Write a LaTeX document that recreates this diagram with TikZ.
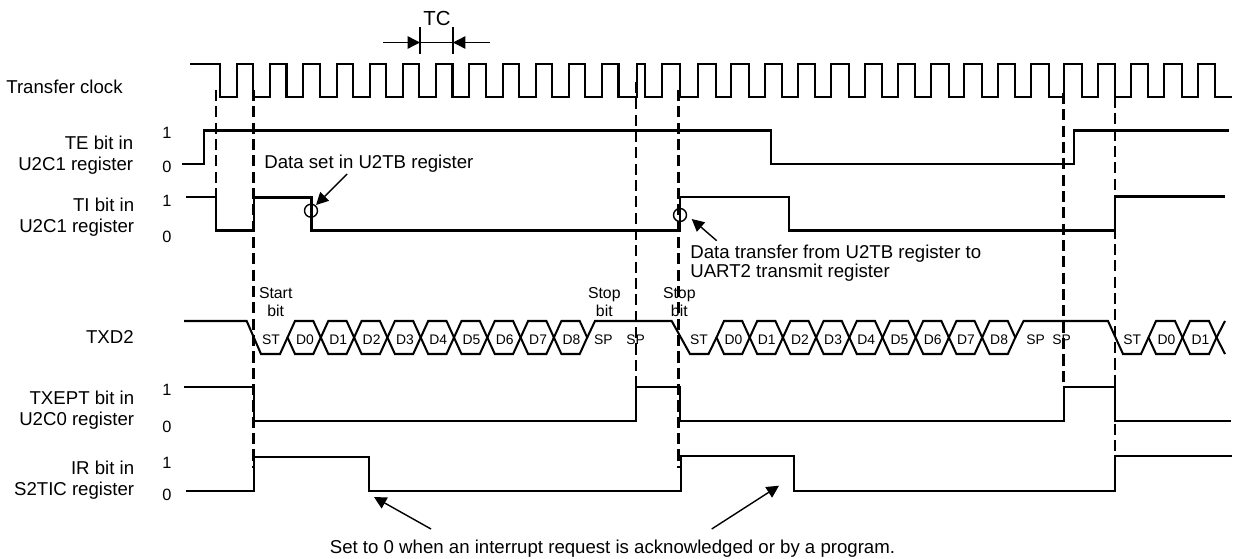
\documentclass[tikz,border=0pt]{standalone}
\usepackage{fontspec}
\setmainfont{Liberation Sans}
\usetikzlibrary{arrows.meta}
\tikzset{
  sig/.style={line width=1.15pt, line join=miter},
  guide/.style={line width=1.4pt, dash pattern=on 6.3pt off 3pt},
  callout/.style={line width=0.8pt, -{Triangle[length=7pt,width=7pt]}},
  sigmark/.style={draw, circle, line width=0.8pt, minimum size=0.26cm, inner sep=0pt},
  reglabel/.style={anchor=east, align=right, inner sep=0pt, font=\fontsize{10.6}{11.95}\selectfont},
  notelabel/.style={anchor=west, align=left, inner sep=0pt, font=\fontsize{10.6}{10.8}\selectfont},
  level/.style={inner sep=0pt, font=\fontsize{9.3}{10}\selectfont},
  bitname/.style={align=center, inner sep=0pt, font=\fontsize{9}{10.2}\selectfont},
  bitcell/.style={inner sep=0pt, font=\fontsize{7.9}{9}\selectfont}
}
\begin{document}
\begin{tikzpicture}[x=0.02cm, y=-0.02cm]
  \useasboundingbox (0,0) rectangle (1240,558);
  % Horloge
  \draw[sig] (190,64) -- (220,64) -- (220,97)
    \foreach \k in {0,...,11} { -- ({237+33.2*\k},97) -- ({237+33.2*\k},64) -- ({253.3+33.2*\k},64) -- ({253.3+33.2*\k},97) }
    -- (636.7,97) -- (636.7,64) -- (645,64) -- (645,97)
    -- (661.7,97) -- (661.7,64) -- (680,64) -- (680,97)
    \foreach \k in {0,...,15} { -- ({698+33.3*\k},97) -- ({698+33.3*\k},64) -- ({715.5+33.3*\k},64) -- ({715.5+33.3*\k},97) }
    -- (1232,97);
  % TC
  \coordinate (tcL) at (420,42.5);
  \coordinate (tcR) at (453,42.5);
  \coordinate (tcLfree) at (383,42.5);
  \coordinate (tcRfree) at (490,42.5);
  \node[inner sep=0pt, font=\fontsize{11.6}{12}\selectfont] (tcname) at (437,18) {TC};
  \draw[line width=0.8pt] (420,27) -- (420,54);
  \draw[line width=0.8pt] (453,27) -- (453,54);
  \draw[line width=0.8pt] (tcL) -- (tcR);
  \draw[callout] (tcLfree) -- (tcL);
  \draw[callout] (tcRfree) -- (tcR);
  % Pointilles
  \draw[guide] (216,90) -- (216,231);
  \draw[guide] (253.5,90) -- (253.5,468);
  \draw[guide] (636,82) -- (636,387);
  \draw[guide] (678.7,90) -- (678.7,468);
  \draw[guide] (1063.5,93) -- (1063.5,387);
  \draw[guide] (1115,97) -- (1115,468);
  % Signaux
  \draw[sig] (182,164) -- (204,164) -- (204,130.5) -- (770.5,130.5) -- (770.5,164) -- (1074,164) -- (1074,130.5) -- (1229,130.5);
  \draw[sig] (186,197) -- (216,197) -- (216,230.5) -- (254,230.5) -- (254,197.5) -- (311.5,197.5) -- (311.5,230.5)
    -- (680,230.5) -- (680,197) -- (788.5,197) -- (788.5,230.5) -- (1115,230.5) -- (1115,196.5) -- (1225,196.5);
  \draw[sig] (184,387) -- (254,387) -- (254,421) -- (636,421) -- (636,387) -- (680,387) -- (680,421)
    -- (1064,421) -- (1064,387) -- (1114.5,387) -- (1114.5,421) -- (1231,421);
  \draw[sig] (186,491) -- (254,491) -- (254,457) -- (369,457) -- (369,491) -- (681,491) -- (681,456)
    -- (793.5,456) -- (793.5,491) -- (1115,491) -- (1115,456) -- (1232,456);
  % TXD2
  \draw[sig] (184,321) -- (246.7,321) -- (261,354) -- (280,354) -- (287.5,337.5);
  \foreach \k in {0,...,8} {
    \pgfmathsetmacro{\v}{287.5+33.3*\k}
    \draw[sig] (\v,337.5) -- (\v+7.5,321) -- (\v+25.8,321) -- (\v+33.3,337.5) -- (\v+25.8,354) -- (\v+7.5,354) -- cycle;
    \node[bitcell] (dataA\k) at (\v+17.5,340) {D\k};
  }
  \draw[sig] (587.2,337.5) -- (595,321) -- (671.7,321) -- (690,354) -- (708.5,354) -- (716.5,337.5);
  \foreach \k in {0,...,8} {
    \pgfmathsetmacro{\v}{716.5+33.2*\k}
    \draw[sig] (\v,337.5) -- (\v+7.5,321) -- (\v+25.7,321) -- (\v+33.2,337.5) -- (\v+25.7,354) -- (\v+7.5,354) -- cycle;
    \node[bitcell] (dataB\k) at (\v+17,340) {D\k};
  }
  \draw[sig] (1015.3,337.5) -- (1023.5,321) -- (1108,321) -- (1123,354) -- (1141,354) -- (1148.5,337.5);
  \foreach \k in {0,1} {
    \pgfmathsetmacro{\v}{1148.5+34*\k}
    \draw[sig] (\v,337.5) -- (\v+7.5,321) -- (\v+26.5,321) -- (\v+34,337.5) -- (\v+26.5,354) -- (\v+7.5,354) -- cycle;
    \node[bitcell] (dataC\k) at (\v+18,340) {D\k};
  }
  \draw[sig] (1225,321) -- (1216.5,337.5) -- (1225,354);
  \foreach \x/\t/\n in {271/ST/stA, 603.3/SP/spA, 635.7/SP/spB, 699/ST/stB, 1035.7/SP/spC, 1061.7/SP/spD, 1132.3/ST/stC}
    \node[bitcell] (\n) at (\x,340) {\t};
  \node[bitname] (startbit) at (275.7,302.5) {Start\\bit};
  \node[bitname] (stopbitA) at (604.3,302) {Stop\\bit};
  \node[bitname] (stopbitB) at (679.3,302) {Stop\\bit};
  % Noms
  \node[reglabel, anchor=west] (clockname) at (6,87) {Transfer clock};
  \node[reglabel] (tename) at (133.5,155.5) {TE bit in\\U2C1 register};
  \node[reglabel] (tiname) at (134.5,217) {TI bit in\\U2C1 register};
  \node[reglabel] (txdname) at (134,337) {TXD2};
  \node[reglabel] (txeptname) at (134.5,410) {TXEPT bit in\\U2C0 register};
  \node[reglabel] (irname) at (134.5,480) {IR bit in\\S2TIC register};
  % Niveaux
  \foreach \y/\t/\n in {133/1/teH, 167/0/teL, 201/1/tiH, 237/0/tiL, 390/1/txeptH, 427/0/txeptL, 463/1/irH, 495/0/irL}
    \node[level] (\n) at (167,\y) {\t};
  % Marques et renvois
  \node[sigmark] (markset) at (311,210.7) {};
  \node[sigmark] (marktransfer) at (680,215) {};
  \node[notelabel] (setnote) at (264,164) {Data set in U2TB register};
  \node[notelabel] (transfernote) at (690,263.5) {Data transfer from U2TB register to\\UART2 transmit register};
  \node[notelabel, anchor=center] (irnote) at (612.5,549) {Set to 0 when an interrupt request is acknowledged or by a program.};
  \coordinate (setfrom) at (347,174);
  \coordinate (setto) at (316,205);
  \coordinate (transferfrom) at (716.7,240.7);
  \coordinate (transferto) at (691.7,219);
  \coordinate (irfromA) at (431,529);
  \coordinate (irtoA) at (374,497);
  \coordinate (irfromB) at (711.7,529);
  \coordinate (irtoB) at (779,485.7);
  \draw[callout] (setfrom) -- (setto);
  \draw[callout] (transferfrom) -- (transferto);
  \draw[callout] (irfromA) -- (irtoA);
  \draw[callout] (irfromB) -- (irtoB);
\end{tikzpicture}
\end{document}
